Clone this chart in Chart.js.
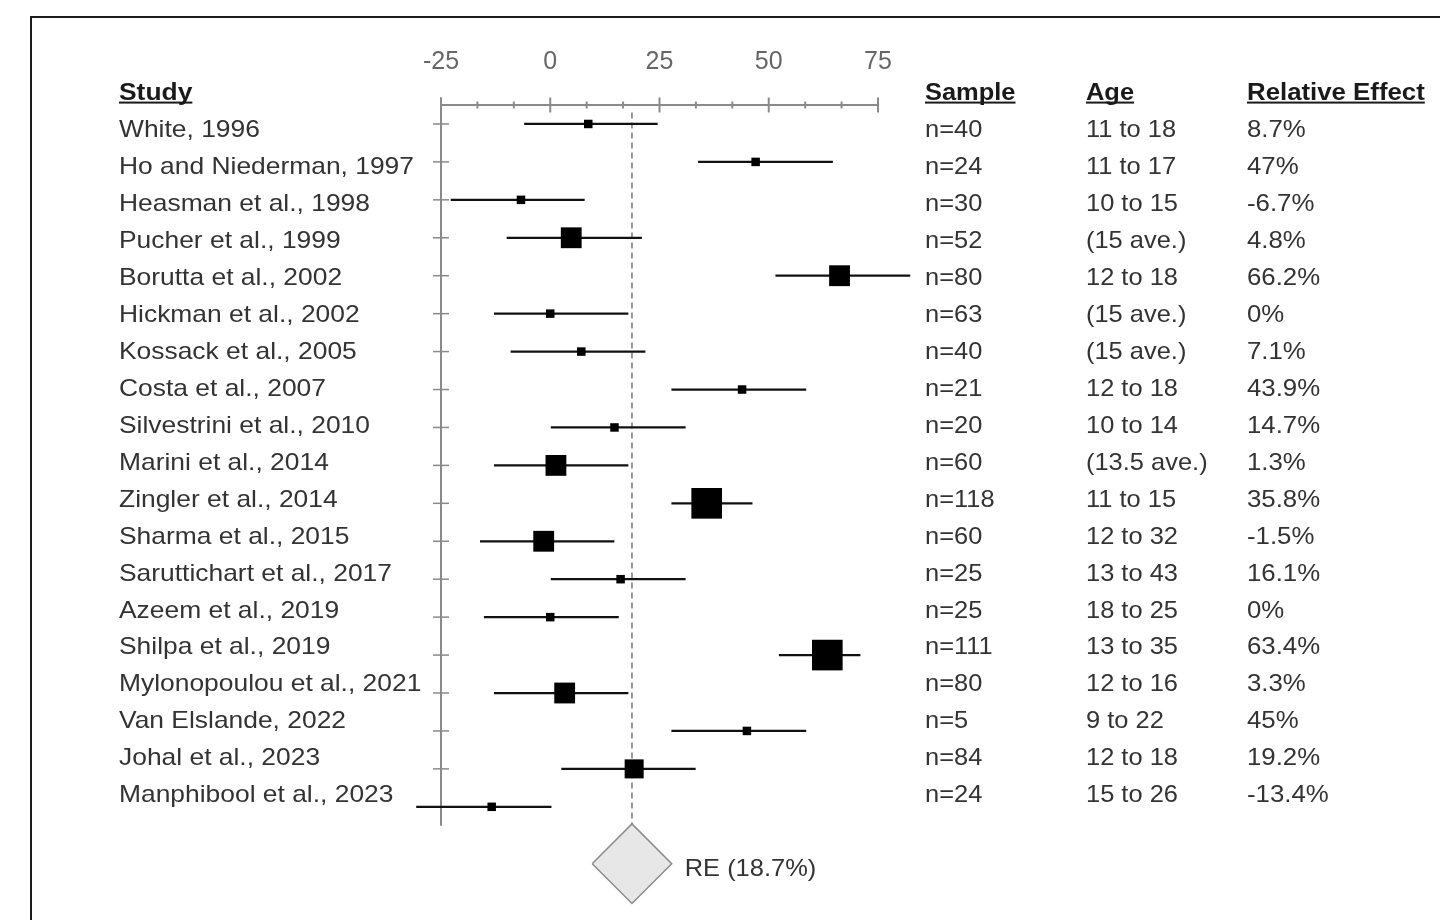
<!DOCTYPE html>
<html>
<head>
<meta charset="utf-8">
<title>Forest plot</title>
<script src="https://cdn.jsdelivr.net/npm/chart.js@4.4.1/dist/chart.umd.min.js"></script>
<style>
  html, body { margin: 0; padding: 0; background: #fff; overflow: hidden; }
  #frame { position: absolute; left: 30px; top: 16px; width: 1700px; height: 1200px; border: 2px solid #1c1c1c; }
  #wrap { position: absolute; left: 0; top: 0; width: 1440px; height: 920px; }
</style>
</head>
<body>
<div id="frame"></div>
<div id="wrap"><canvas id="forest"></canvas></div>
<script>
const studies = [
  'White, 1996', 'Ho and Niederman, 1997', 'Heasman et al., 1998', 'Pucher et al., 1999',
  'Borutta et al., 2002', 'Hickman et al., 2002', 'Kossack et al., 2005', 'Costa et al., 2007',
  'Silvestrini et al., 2010', 'Marini et al., 2014', 'Zingler et al., 2014', 'Sharma et al., 2015',
  'Saruttichart et al., 2017', 'Azeem et al., 2019', 'Shilpa et al., 2019', 'Mylonopoulou et al., 2021',
  'Van Elslande, 2022', 'Johal et al., 2023', 'Manphibool et al., 2023',
]
const samples = [
  'n=40', 'n=24', 'n=30', 'n=52', 'n=80', 'n=63', 'n=40', 'n=21', 'n=20', 'n=60',
  'n=118', 'n=60', 'n=25', 'n=25', 'n=111', 'n=80', 'n=5', 'n=84', 'n=24',
]
const ages = [
  '11 to 18', '11 to 17', '10 to 15', '(15 ave.)', '12 to 18', '(15 ave.)', '(15 ave.)', '12 to 18',
  '10 to 14', '(13.5 ave.)', '11 to 15', '12 to 32', '13 to 43', '18 to 25', '13 to 35', '12 to 16',
  '9 to 22', '12 to 18', '15 to 26',
]
// relative effect (%) and the confidence interval
const effects = [8.7, 47, -6.7, 4.8, 66.2, 0, 7.1, 43.9, 14.7, 1.3, 35.8, -1.5, 16.1, 0, 63.4, 3.3, 45, 19.2, -13.4]
const ciLow = [-5.9, 33.9, -22.7, -9.9, 51.6, -12.8, -9.0, 27.8, 0.2, -12.8, 27.8, -16.0, 0.2, -15.1, 52.4, -12.8, 27.8, 2.6, -30.6]
const ciHigh = [24.5, 64.6, 7.8, 20.9, 82.3, 17.8, 21.7, 58.5, 30.9, 17.8, 46.2, 14.6, 30.9, 15.6, 70.9, 17.8, 58.5, 33.2, 0.2]
// study weights, judged from the size of the squares
const weights = [1, 1, 1, 6, 6, 1, 1, 1, 1, 6, 13, 6, 1, 1, 13, 6, 1, 5, 1]

const xTicks = [-25, 0, 25, 50, 75]
const reLabel = 'RE'
const reEstimate = 18.7
const reLow = 9.6
const reHigh = 27.8

const FONT = "'Liberation Sans', Arial, Helvetica, sans-serif"
const AXIS = '#8a8a8a'
const TEXT = '#333'

const rows = studies.map((_, i) => i)
const diamondRow = studies.length + 0.5
const diamondHalf = 1.05

function putText(ctx, str, x, y, opts = {}) {
  const { size = 24, bold = false, stretch = 1.07, color = TEXT, underline = false } = opts
  ctx.save()
  ctx.font = `${bold ? 'bold ' : ''}${size}px ${FONT}`
  ctx.fillStyle = color
  ctx.textAlign = 'left'
  ctx.textBaseline = 'alphabetic'
  ctx.translate(x, y + size * 0.36)
  ctx.scale(stretch, 1)
  ctx.fillText(str, 0, 0)
  if (underline) {
    const w = ctx.measureText(str).width
    ctx.fillRect(0, 2, w, 2)
  }
  ctx.restore()
}

const forestDecor = {
  id: 'forestDecor',
  beforeDatasetsDraw(chart) {
    const { ctx, chartArea } = chart
    const x = chart.scales.x
    const y = chart.scales.y
    const axisY = chartArea.top
    const axisX = x.getPixelForValue(xTicks[0])
    ctx.save()
    ctx.strokeStyle = AXIS
    // ticks crossing the top axis, minor every third of a major step
    const step = (xTicks[1] - xTicks[0]) / 3
    ctx.lineWidth = 2
    for (let i = 0; i <= (xTicks.length - 1) * 3; i++) {
      const px = x.getPixelForValue(xTicks[0] + i * step)
      const h = i % 3 === 0 ? 7.5 : 3.5
      ctx.beginPath()
      ctx.moveTo(px, axisY - h)
      ctx.lineTo(px, axisY + h)
      ctx.stroke()
    }
    // left axis with a tick per study
    ctx.beginPath()
    ctx.moveTo(axisX, axisY - 7.5)
    ctx.lineTo(axisX, y.getPixelForValue(studies.length - 0.5))
    ctx.stroke()
    ctx.lineWidth = 1.5
    rows.forEach((r) => {
      const py = y.getPixelForValue(r)
      ctx.beginPath()
      ctx.moveTo(axisX - 8, py)
      ctx.lineTo(axisX + 8, py)
      ctx.stroke()
    })
    ctx.restore()
  },
  afterDraw(chart) {
    const { ctx } = chart
    const x = chart.scales.x
    const y = chart.scales.y
    const t = chart.scales.yText
    const cols = [
      { head: 'Study', vals: studies, x: 119, stretch: 1.1 },
      { head: 'Sample', vals: samples, x: 925, stretch: 1.06 },
      { head: 'Age', vals: ages, x: 1086, stretch: 1.06 },
      { head: 'Relative Effect', vals: effects.map((v) => v + '%'), x: 1247, stretch: 1.075 },
    ]
    cols.forEach((c) => {
      putText(ctx, c.head, c.x, t.getPixelForValue(-1), { bold: true, color: '#1a1a1a', underline: true, stretch: c.stretch })
      c.vals.forEach((v, i) => putText(ctx, v, c.x, t.getPixelForValue(i), { stretch: c.stretch }))
    })
    putText(ctx, `${reLabel} (${reEstimate}%)`, x.getPixelForValue(reHigh) + 13, y.getPixelForValue(diamondRow) + 4, { stretch: 1.06 })
  },
}

new Chart(document.getElementById('forest'), {
  type: 'scatter',
  data: {
    datasets: [
      {
        type: 'scatter',
        label: 'Effect',
        data: rows.map((i) => ({ x: effects[i], y: i })),
        pointStyle: 'rect',
        pointRadius: (c) => (8.5 * Math.sqrt(weights[c.dataIndex])) / (2 * Math.SQRT1_2),
        backgroundColor: '#000',
        borderWidth: 0,
        clip: false,
      },
      {
        type: 'bar',
        label: 'CI',
        indexAxis: 'y',
        data: rows.map((i) => ({ x: [ciLow[i], ciHigh[i]], y: i })),
        backgroundColor: '#111',
        barThickness: 1.6,
        borderWidth: 0,
        clip: false,
      },
      {
        type: 'line',
        label: 'Pooled line',
        data: [
          { x: reEstimate, y: -0.3 },
          { x: reEstimate, y: diamondRow - diamondHalf },
        ],
        borderColor: '#777',
        borderWidth: 1.5,
        borderDash: [6, 4],
        pointRadius: 0,
        fill: false,
        clip: false,
      },
      {
        type: 'line',
        label: 'RE',
        data: [
          { x: reLow, y: diamondRow },
          { x: reEstimate, y: diamondRow - diamondHalf },
          { x: reHigh, y: diamondRow },
          { x: reEstimate, y: diamondRow + diamondHalf },
          { x: reLow, y: diamondRow },
        ],
        borderColor: '#8a8a8a',
        borderWidth: 1.5,
        backgroundColor: '#e7e7e7',
        fill: 'shape',
        pointRadius: 0,
        tension: 0,
        clip: false,
      },
    ],
  },
  options: {
    responsive: true,
    maintainAspectRatio: false,
    animation: false,
    events: [],
    layout: { autoPadding: false, padding: { top: 15, left: 441, right: 562, bottom: 10 } },
    plugins: { legend: { display: false }, tooltip: { enabled: false } },
    scales: {
      x: {
        type: 'linear',
        position: 'top',
        min: xTicks[0],
        max: xTicks[xTicks.length - 1],
        offset: false,
        afterBuildTicks: (s) => { s.ticks = xTicks.map((v) => ({ value: v })) },
        ticks: { padding: 28, color: '#666', font: { family: FONT, size: 25 } },
        grid: { display: false, drawTicks: false, offset: false },
        border: { display: true, color: AXIS, width: 2 },
        afterFit: (s) => { s.height = 90 },
      },
      y: {
        type: 'linear', reverse: true, min: -0.5, max: 20.72, display: false,
        offset: false, grid: { offset: false },
      },
      yText: {
        axis: 'y', type: 'linear', reverse: true, min: -0.62, max: 21.14, display: false,
        offset: false, grid: { offset: false },
      },
    },
  },
  plugins: [forestDecor],
})
</script>
</body>
</html>
